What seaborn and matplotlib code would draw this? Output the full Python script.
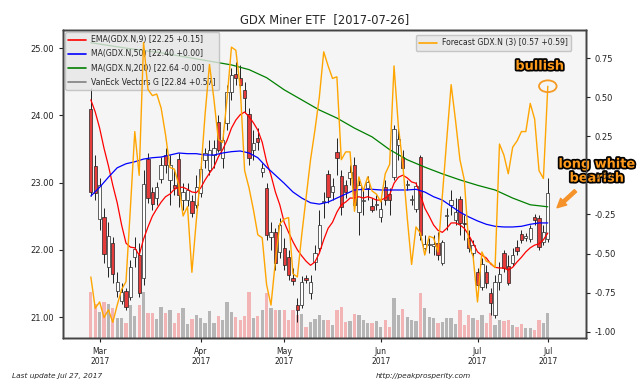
import numpy as np
import matplotlib
matplotlib.use('Agg')
import matplotlib.pyplot as plt
import matplotlib.patheffects as pe
from matplotlib.lines import Line2D
from matplotlib.patches import Ellipse
import seaborn as sns

sns.set_style('ticks')
plt.rcParams['font.family'] = ['DejaVu Sans']

# GDX daily candles, 2017-02-27 .. 2017-07-26
opens = [24.10, 23.25, 22.46, 22.49, 21.74, 22.10, 21.39, 21.24, 21.39, 21.30,
         21.89, 21.92, 21.58, 23.35, 22.86, 22.77, 23.05, 23.41, 23.04, 22.96,
         23.35, 22.74, 22.74, 22.73, 22.67, 22.85, 23.34, 23.19, 23.41, 23.90,
         23.37, 23.89, 24.35, 24.62, 24.56, 24.38, 24.02, 23.49, 23.66, 23.16,
         22.92, 22.19, 22.26, 21.97, 22.03, 21.89, 21.58, 21.18, 21.18, 21.58,
         21.36, 21.82, 22.03, 22.71, 23.13, 22.86, 23.46, 23.10, 22.96, 23.07,
         23.26, 22.56, 22.73, 22.92, 22.65, 22.67, 22.49, 22.93, 22.83, 23.08,
         23.56, 23.38, 22.96, 22.74, 22.61, 23.38, 22.03, 22.07, 22.06, 22.10,
         21.80, 22.50, 22.67, 22.44, 22.76, 22.40, 22.18, 21.95, 21.67, 21.45,
         21.67, 21.36, 21.03, 21.52, 21.95, 21.76, 21.80, 22.04, 22.24, 22.18,
         22.16, 22.49, 22.47, 22.12, 22.16]
highs = [24.41, 23.41, 23.07, 22.62, 22.41, 22.19, 21.67, 21.51, 21.43, 21.85,
         22.19, 22.10, 23.19, 23.44, 22.93, 23.01, 23.38, 23.51, 23.41, 23.19,
         23.44, 22.99, 23.00, 22.82, 23.11, 23.38, 23.51, 23.63, 23.63, 24.01,
         23.78, 24.45, 24.71, 24.79, 24.75, 24.50, 24.11, 23.78, 23.81, 23.29,
         22.99, 22.41, 22.32, 22.47, 22.18, 22.00, 21.73, 21.28, 21.61, 21.63,
         21.63, 22.07, 22.59, 22.86, 23.19, 23.07, 23.66, 23.19, 23.04, 23.26,
         23.38, 23.04, 22.92, 23.10, 22.77, 22.82, 22.74, 23.04, 22.92, 23.86,
         23.81, 23.49, 23.04, 22.82, 23.01, 23.41, 22.22, 22.18, 22.22, 22.26,
         22.15, 22.62, 22.89, 22.77, 22.80, 22.52, 22.29, 22.15, 21.73, 21.88,
         21.77, 21.43, 21.63, 21.82, 22.00, 21.92, 22.03, 22.15, 22.29, 22.25,
         22.37, 22.53, 22.52, 22.37, 23.07]
lows = [22.80, 22.74, 22.29, 21.80, 21.60, 21.51, 21.30, 21.19, 21.10, 21.25,
        21.74, 21.30, 21.48, 22.70, 22.59, 22.67, 22.99, 23.14, 22.67, 22.82,
        22.64, 22.59, 22.65, 22.49, 22.62, 22.79, 23.22, 23.11, 23.22, 23.46,
        23.22, 23.78, 24.23, 24.45, 24.30, 24.04, 23.26, 23.34, 23.49, 23.08,
        22.15, 22.00, 21.70, 21.88, 21.70, 21.55, 21.48, 20.93, 21.13, 21.51,
        21.27, 21.70, 21.97, 22.47, 22.70, 22.74, 23.11, 22.52, 22.77, 22.96,
        22.59, 22.22, 22.52, 22.74, 22.56, 22.59, 22.41, 22.67, 22.52, 23.04,
        23.34, 23.11, 22.89, 22.67, 22.56, 22.15, 21.97, 21.95, 21.92, 21.85,
        21.77, 22.29, 22.52, 22.37, 22.22, 22.15, 21.97, 21.88, 21.40, 21.40,
        21.43, 21.03, 20.99, 21.40, 21.67, 21.48, 21.76, 21.92, 22.10, 22.13,
        22.12, 22.37, 22.00, 22.07, 22.12]
closes = [22.86, 22.85, 22.96, 21.94, 22.21, 21.64, 21.52, 21.37, 21.15, 21.74,
          22.01, 21.36, 22.98, 22.77, 22.68, 22.93, 23.26, 23.26, 23.26, 22.92,
          22.82, 22.86, 22.89, 22.55, 22.93, 23.20, 23.44, 23.49, 23.51, 23.49,
          23.63, 24.35, 24.60, 24.56, 24.45, 24.26, 23.37, 23.59, 23.60, 23.22,
          22.22, 22.26, 21.80, 22.37, 21.77, 21.63, 21.54, 21.10, 21.52, 21.55,
          21.52, 21.95, 22.37, 22.73, 22.79, 22.95, 23.37, 22.64, 22.86, 23.16,
          22.67, 22.96, 22.74, 23.01, 22.59, 22.68, 22.61, 22.74, 22.74, 23.80,
          23.65, 23.22, 22.98, 22.76, 22.95, 22.22, 22.09, 22.09, 22.09, 21.92,
          22.12, 22.52, 22.74, 22.56, 22.40, 22.38, 22.03, 22.07, 21.48, 21.79,
          21.51, 21.21, 21.52, 21.64, 21.73, 21.51, 21.92, 21.98, 22.15, 22.21,
          22.32, 22.44, 22.04, 22.26, 22.84]
volumes = [46, 34, 26, 36, 34, 30, 20, 20, 15, 33,
           22, 33, 46, 25, 25, 19, 31, 25, 28, 15,
           25, 30, 14, 19, 23, 20, 15, 27, 15, 22,
           18, 36, 26, 21, 18, 22, 46, 20, 22, 28,
           45, 30, 28, 28, 28, 18, 28, 23, 24, 11,
           16, 19, 23, 18, 18, 13, 28, 31, 16, 17,
           24, 23, 18, 15, 15, 17, 11, 18, 11, 40,
           23, 29, 21, 18, 17, 45, 30, 21, 20, 15,
           16, 20, 20, 14, 28, 13, 23, 20, 18, 23,
           15, 25, 13, 18, 17, 18, 13, 11, 14, 10,
           10, 8, 18, 15, 25]

ema9 = [24.23, 24.05, 23.81, 23.51, 23.25, 22.96, 22.70, 22.37, 22.10, 22.04,
        22.03, 21.92, 22.16, 22.34, 22.50, 22.61, 22.71, 22.79, 22.83, 22.90,
        22.93, 22.93, 22.90, 22.86, 22.85, 22.92, 23.04, 23.14, 23.23, 23.38,
        23.49, 23.63, 23.81, 23.93, 24.01, 24.05, 23.98, 23.89, 23.78, 23.60,
        23.31, 23.11, 22.86, 22.67, 22.41, 22.26, 22.12, 22.00, 21.91, 21.83,
        21.77, 21.82, 21.95, 22.15, 22.32, 22.41, 22.56, 22.67, 22.71, 22.77,
        22.77, 22.79, 22.77, 22.79, 22.77, 22.74, 22.74, 22.77, 22.82, 22.99,
        23.08, 23.11, 23.07, 23.01, 22.99, 22.82, 22.62, 22.50, 22.37, 22.29,
        22.26, 22.32, 22.40, 22.40, 22.37, 22.32, 22.22, 22.10, 21.97, 21.92,
        21.88, 21.79, 21.74, 21.73, 21.73, 21.70, 21.74, 21.82, 21.89, 21.97,
        22.03, 22.07, 22.09, 22.15, 22.25]
ma50_idx = list(range(0, 105, 2))
ma50 = [22.80, 22.93, 23.08, 23.22, 23.28, 23.31, 23.35, 23.37, 23.38, 23.41,
        23.44, 23.43, 23.43, 23.41, 23.41, 23.44, 23.46, 23.47, 23.44, 23.37,
        23.23, 23.11, 22.99, 22.86, 22.77, 22.70, 22.68, 22.71, 22.77, 22.83,
        22.89, 22.90, 22.90, 22.89, 22.89, 22.89, 22.89, 22.90, 22.86, 22.79,
        22.74, 22.65, 22.56, 22.49, 22.43, 22.38, 22.35, 22.34, 22.34, 22.35,
        22.38, 22.40, 22.40]
ma200_idx = [0, 8, 16, 24, 32, 36, 40, 44, 48, 52, 56, 60, 64, 68, 72, 76,
             80, 84, 88, 92, 96, 100, 104]
ma200 = [25.08, 25.00, 24.93, 24.84, 24.75, 24.68, 24.56, 24.38, 24.23, 24.08,
         23.96, 23.81, 23.68, 23.49, 23.34, 23.23, 23.13, 23.04, 22.96, 22.89,
         22.77, 22.67, 22.64]
forecast = [-0.65, -0.85, -0.81, -0.91, -0.86, -0.94, -0.83, -0.73, -0.68, -0.21,
            0.28, 0.00, 0.85, 0.55, 0.51, 0.52, 0.43, 0.26, 0.05, 0.04,
            -0.06, -0.26, -0.20, -0.62, -0.29, 0.01, 0.39, 0.71, 0.49, 0.23,
            0.21, 0.49, 0.82, 0.80, 0.56, 0.03, -0.08, -0.22, -0.38, -0.40,
            -0.70, -0.83, -0.55, -0.31, -0.28, -0.27, -0.63, -0.65, -0.38, -0.14,
            0.10, 0.29, 0.50, 0.79, 0.70, 0.62, 0.63, 0.10, 0.15, 0.15,
            -0.23, -0.01, -0.10, -0.01, -0.10, -0.12, -0.17, 0.01, 0.07, 0.70,
            0.31, 0.07, -0.27, -0.57, -0.33, -0.37, -0.51, -0.39, -0.40, -0.49,
            -0.13, 0.23, 0.58, 0.35, 0.10, -0.03, -0.44, -0.52, -0.81, -0.49,
            -0.55, -0.56, -0.59, 0.20, 0.13, 0.01, 0.18, 0.22, 0.28, 0.28,
            0.46, 0.36, 0.03, -0.02, 0.57]

tick_idx = [2, 25, 44, 66, 88, 104]
tick_labels = ['Mar\n2017', 'Apr\n2017', 'May\n2017', 'Jun\n2017', 'Jul\n2017', 'Jul\n2017']
legend_labels = ['EMA(GDX.N,9) [22.25 +0.15]', 'MA(GDX.N,50) [22.40 +0.00]',
                 'MA(GDX.N,200) [22.64 -0.00]', 'VanEck Vectors G [22.84 +0.57]']
forecast_label = 'Forecast GDX.N (3) [0.57 +0.59]'

x = np.arange(len(closes))
o = np.array(opens); c = np.array(closes)
down = c < o
body_col = np.where(down, '#e53b3b', 'white')
vol_col = np.where(down, '#f2b4b4', '#b5b5b5')

fig = plt.figure(figsize=(6.4, 3.84), dpi=100)
ax_vol = fig.add_axes([0.098, 0.12, 0.817, 0.802])
ax = ax_vol.twinx()
ax_f = ax_vol.twinx()
ax_vol.set_zorder(0); ax.set_zorder(1); ax_f.set_zorder(2)
ax_vol.set_facecolor('#f5f5f5')
ax.patch.set_visible(False)

# volume
ax_vol.bar(x, volumes, width=0.75, color=vol_col, linewidth=0)
ax_vol.set_ylim(0, 308)
ax_vol.tick_params(axis='y', left=False, labelleft=False, right=False, labelright=False)

# candles
ax.vlines(x, lows, highs, color='#222222', lw=0.7, zorder=1)
ax.bar(x, np.abs(c - o), bottom=np.minimum(o, c), width=0.75, color=body_col,
       edgecolor='#222222', linewidth=0.5, zorder=1.5)

sns.lineplot(x=x, y=ema9, ax=ax, color='red', lw=0.9, estimator=None, legend=False)
sns.lineplot(x=ma50_idx, y=ma50, ax=ax, color='blue', lw=0.9, estimator=None, legend=False)
sns.lineplot(x=ma200_idx, y=ma200, ax=ax, color='green', lw=0.9, estimator=None, legend=False)
ax.yaxis.tick_left()
ax.set_ylim(20.69, 25.27)
ax.set_yticks([21, 22, 23, 24, 25])
ax.yaxis.set_major_formatter(matplotlib.ticker.FormatStrFormatter('%.2f'))

sns.lineplot(x=x, y=forecast, ax=ax_f, color='orange', lw=1.0, estimator=None, legend=False)
ax_f.set_ylim(-1.04, 0.93)
ax_f.set_yticks([-1.0, -0.75, -0.5, -0.25, 0.0, 0.25, 0.5, 0.75])
ax_f.yaxis.set_major_formatter(matplotlib.ticker.FormatStrFormatter('%.2f'))

ax_vol.set_xlim(-6.4, 112.6)
ax_vol.set_xticks(tick_idx)
ax_vol.set_xticklabels(tick_labels)

for a in (ax_vol, ax, ax_f):
    a.set_xlabel(''); a.set_ylabel('')
    for s in a.spines.values():
        s.set_color('#444444'); s.set_linewidth(1.0)
ax_vol.tick_params(axis='x', labelsize=5.5, length=3, colors='#222222')
ax.tick_params(axis='y', labelsize=6, length=3, colors='#222222')
ax_f.tick_params(axis='y', labelsize=6, length=3, colors='#222222')

handles = [Line2D([], [], color='red', lw=1.2), Line2D([], [], color='blue', lw=1.2),
           Line2D([], [], color='green', lw=1.2), Line2D([], [], color='gray', lw=1.2)]
leg = ax.legend(handles, legend_labels, loc='upper left', fontsize=5.6,
                handlelength=2.3, handletextpad=0.7, labelspacing=0.65,
                borderaxespad=0.3, framealpha=0.8, facecolor='#e6e6e6', edgecolor='#bbbbbb')
ax_f.legend([Line2D([], [], color='orange', lw=1.2)], [forecast_label], loc='upper right',
            bbox_to_anchor=(0.98, 0.995), fontsize=5.6, handlelength=2.3, handletextpad=0.7,
            framealpha=0.8, facecolor='#e6e6e6', edgecolor='#bbbbbb')

# annotations
orange_txt = '#ff9a1a'
stroke = [pe.withStroke(linewidth=2.5, foreground='black')]
ax_f.add_patch(Ellipse((x[-1], forecast[-1]), width=4.0, height=0.075, fill=False,
                       ec='#f59a23', lw=1.3, zorder=5))
ax_f.annotate('bullish', xy=(x[-1], forecast[-1]), xytext=(-8, 20), textcoords='offset pixels',
              ha='center', va='center', fontsize=9.3, fontweight='bold', color=orange_txt,
              path_effects=stroke)
ax.annotate('long white\nbearish', xy=(x[-1], (opens[-1] + closes[-1]) / 2), xytext=(49, 45),
            textcoords='offset pixels', ha='center', va='center', fontsize=9.3,
            fontweight='bold', color=orange_txt, path_effects=stroke, linespacing=1.1,
            arrowprops=dict(arrowstyle='simple,head_width=0.7,head_length=0.7,tail_width=0.25',
                            color='#f5922a', shrinkA=3, shrinkB=9))

fig.text(0.507, 0.948, 'GDX Miner ETF  [2017-07-26]', ha='center', va='center', fontsize=8.3)
fig.text(0.019, 0.021, 'Last update Jul 27, 2017', ha='left', va='center', fontsize=5.3, style='italic')
fig.text(0.735, 0.021, 'http://peakprosperity.com', ha='right', va='center', fontsize=5.3, style='italic')

fig.savefig('out.png', dpi=100)
